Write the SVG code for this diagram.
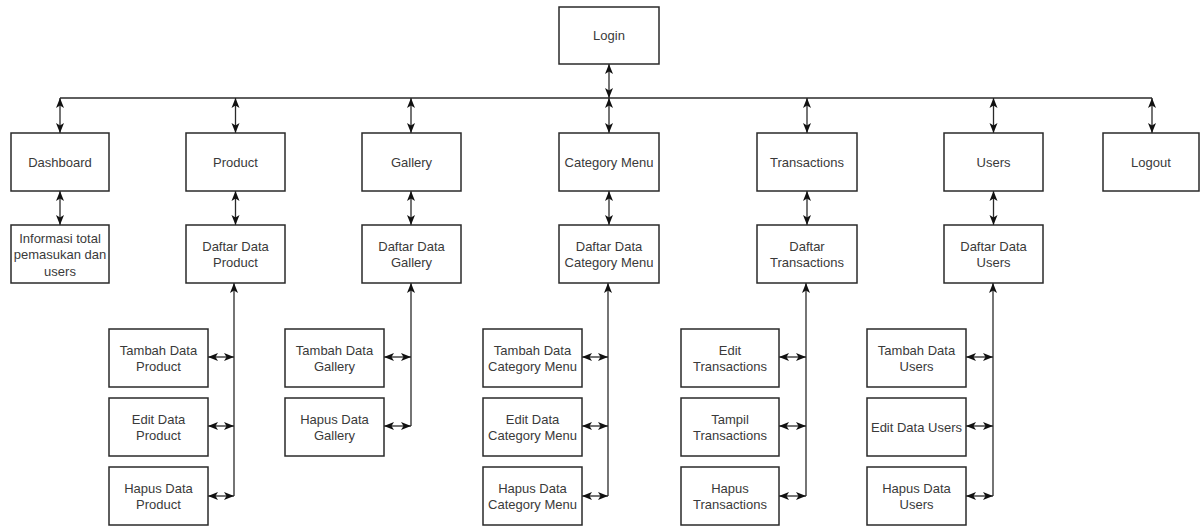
<svg xmlns="http://www.w3.org/2000/svg" width="1200" height="527" viewBox="0 0 1200 527">
<style>
.box{fill:#fff;stroke:#2a2a2a;stroke-width:1.5}
.t{font-family:"Liberation Sans",Arial,sans-serif;font-size:13px;fill:#3a3a3a;text-anchor:middle}
.c{fill:none;stroke:#2a2a2a;stroke-width:1.3}
</style>
<defs>
<marker id="ah" markerUnits="userSpaceOnUse" markerWidth="10" markerHeight="9" refX="10" refY="4.5" orient="auto-start-reverse" viewBox="0 0 10 9">
<path d="M0,0.5 L10,4.5 L0,8.5 L2.5,4.5 z" fill="#111"/>
</marker>
</defs>
<rect width="1200" height="527" fill="#fff"/>
<g id="connectors">
<line class="c" x1="60" y1="98" x2="1152" y2="98"/>
<line class="c" x1="609" y1="64" x2="609" y2="98" marker-start="url(#ah)" marker-end="url(#ah)"/>
<line class="c" x1="60" y1="98" x2="60" y2="133" marker-start="url(#ah)" marker-end="url(#ah)"/>
<line class="c" x1="235.5" y1="98" x2="235.5" y2="133" marker-start="url(#ah)" marker-end="url(#ah)"/>
<line class="c" x1="411" y1="98" x2="411" y2="133" marker-start="url(#ah)" marker-end="url(#ah)"/>
<line class="c" x1="609" y1="98" x2="609" y2="133" marker-start="url(#ah)" marker-end="url(#ah)"/>
<line class="c" x1="807" y1="98" x2="807" y2="133" marker-start="url(#ah)" marker-end="url(#ah)"/>
<line class="c" x1="993.5" y1="98" x2="993.5" y2="133" marker-start="url(#ah)" marker-end="url(#ah)"/>
<line class="c" x1="1152" y1="98" x2="1152" y2="133" marker-start="url(#ah)" marker-end="url(#ah)"/>
<line class="c" x1="60" y1="191" x2="60" y2="225" marker-start="url(#ah)" marker-end="url(#ah)"/>
<line class="c" x1="235.5" y1="191" x2="235.5" y2="225" marker-start="url(#ah)" marker-end="url(#ah)"/>
<line class="c" x1="411" y1="191" x2="411" y2="225" marker-start="url(#ah)" marker-end="url(#ah)"/>
<line class="c" x1="609" y1="191" x2="609" y2="225" marker-start="url(#ah)" marker-end="url(#ah)"/>
<line class="c" x1="807" y1="191" x2="807" y2="225" marker-start="url(#ah)" marker-end="url(#ah)"/>
<line class="c" x1="993.5" y1="191" x2="993.5" y2="225" marker-start="url(#ah)" marker-end="url(#ah)"/>
<line class="c" x1="234" y1="496" x2="234" y2="283" marker-end="url(#ah)"/>
<line class="c" x1="208" y1="357" x2="234" y2="357" marker-start="url(#ah)" marker-end="url(#ah)"/>
<line class="c" x1="208" y1="426" x2="234" y2="426" marker-start="url(#ah)" marker-end="url(#ah)"/>
<line class="c" x1="208" y1="496" x2="234" y2="496" marker-start="url(#ah)" marker-end="url(#ah)"/>
<line class="c" x1="411" y1="426" x2="411" y2="283" marker-end="url(#ah)"/>
<line class="c" x1="384" y1="357" x2="411" y2="357" marker-start="url(#ah)" marker-end="url(#ah)"/>
<line class="c" x1="384" y1="426" x2="411" y2="426" marker-start="url(#ah)" marker-end="url(#ah)"/>
<line class="c" x1="608" y1="496" x2="608" y2="283" marker-end="url(#ah)"/>
<line class="c" x1="582" y1="357" x2="608" y2="357" marker-start="url(#ah)" marker-end="url(#ah)"/>
<line class="c" x1="582" y1="426" x2="608" y2="426" marker-start="url(#ah)" marker-end="url(#ah)"/>
<line class="c" x1="582" y1="496" x2="608" y2="496" marker-start="url(#ah)" marker-end="url(#ah)"/>
<line class="c" x1="806" y1="496" x2="806" y2="283" marker-end="url(#ah)"/>
<line class="c" x1="779" y1="357" x2="806" y2="357" marker-start="url(#ah)" marker-end="url(#ah)"/>
<line class="c" x1="779" y1="426" x2="806" y2="426" marker-start="url(#ah)" marker-end="url(#ah)"/>
<line class="c" x1="779" y1="496" x2="806" y2="496" marker-start="url(#ah)" marker-end="url(#ah)"/>
<line class="c" x1="993" y1="496" x2="993" y2="283" marker-end="url(#ah)"/>
<line class="c" x1="966" y1="357" x2="993" y2="357" marker-start="url(#ah)" marker-end="url(#ah)"/>
<line class="c" x1="966" y1="426" x2="993" y2="426" marker-start="url(#ah)" marker-end="url(#ah)"/>
<line class="c" x1="966" y1="496" x2="993" y2="496" marker-start="url(#ah)" marker-end="url(#ah)"/>
</g>
<g id="login"><rect class="box" x="559" y="7" width="100" height="57"/><text class="t" x="609" y="40">Login</text></g>
<g id="dashboard"><rect class="box" x="11" y="133" width="98" height="58"/><text class="t" x="60" y="166.5">Dashboard</text></g>
<g id="product"><rect class="box" x="186" y="133" width="99" height="58"/><text class="t" x="235.5" y="166.5">Product</text></g>
<g id="gallery"><rect class="box" x="362" y="133" width="99" height="58"/><text class="t" x="411.5" y="166.5">Gallery</text></g>
<g id="category"><rect class="box" x="559" y="133" width="100" height="58"/><text class="t" x="609" y="166.5">Category Menu</text></g>
<g id="transactions"><rect class="box" x="757" y="133" width="100" height="58"/><text class="t" x="807" y="166.5">Transactions</text></g>
<g id="users"><rect class="box" x="944" y="133" width="99" height="58"/><text class="t" x="993.5" y="166.5">Users</text></g>
<g id="logout"><rect class="box" x="1103" y="133" width="96" height="58"/><text class="t" x="1151" y="166.5">Logout</text></g>
<g id="info"><rect class="box" x="11" y="225" width="98" height="58"/><text class="t" x="60" y="242.5">Informasi total<tspan x="60" dy="16.5">pemasukan dan</tspan><tspan x="60" dy="16.5">users</tspan></text></g>
<g id="daftar-product"><rect class="box" x="186" y="225" width="99" height="58"/><text class="t" x="235.5" y="250.5">Daftar Data<tspan x="235.5" dy="16.5">Product</tspan></text></g>
<g id="daftar-gallery"><rect class="box" x="362" y="225" width="99" height="58"/><text class="t" x="411.5" y="250.5">Daftar Data<tspan x="411.5" dy="16.5">Gallery</tspan></text></g>
<g id="daftar-category"><rect class="box" x="559" y="225" width="100" height="58"/><text class="t" x="609" y="250.5">Daftar Data<tspan x="609" dy="16.5">Category Menu</tspan></text></g>
<g id="daftar-transactions"><rect class="box" x="757" y="225" width="100" height="58"/><text class="t" x="807" y="250.5">Daftar<tspan x="807" dy="16.5">Transactions</tspan></text></g>
<g id="daftar-users"><rect class="box" x="944" y="225" width="99" height="58"/><text class="t" x="993.5" y="250.5">Daftar Data<tspan x="993.5" dy="16.5">Users</tspan></text></g>
<g id="tambah-product"><rect class="box" x="109" y="329" width="99" height="58"/><text class="t" x="158.5" y="354.5">Tambah Data<tspan x="158.5" dy="16.5">Product</tspan></text></g>
<g id="edit-product"><rect class="box" x="109" y="398" width="99" height="58"/><text class="t" x="158.5" y="423.5">Edit Data<tspan x="158.5" dy="16.5">Product</tspan></text></g>
<g id="hapus-product"><rect class="box" x="109" y="467" width="99" height="58"/><text class="t" x="158.5" y="492.5">Hapus Data<tspan x="158.5" dy="16.5">Product</tspan></text></g>
<g id="tambah-gallery"><rect class="box" x="285" y="329" width="99" height="58"/><text class="t" x="334.5" y="354.5">Tambah Data<tspan x="334.5" dy="16.5">Gallery</tspan></text></g>
<g id="hapus-gallery"><rect class="box" x="285" y="398" width="99" height="58"/><text class="t" x="334.5" y="423.5">Hapus Data<tspan x="334.5" dy="16.5">Gallery</tspan></text></g>
<g id="tambah-category"><rect class="box" x="483" y="329" width="99" height="58"/><text class="t" x="532.5" y="354.5">Tambah Data<tspan x="532.5" dy="16.5">Category Menu</tspan></text></g>
<g id="edit-category"><rect class="box" x="483" y="398" width="99" height="58"/><text class="t" x="532.5" y="423.5">Edit Data<tspan x="532.5" dy="16.5">Category Menu</tspan></text></g>
<g id="hapus-category"><rect class="box" x="483" y="467" width="99" height="58"/><text class="t" x="532.5" y="492.5">Hapus Data<tspan x="532.5" dy="16.5">Category Menu</tspan></text></g>
<g id="edit-transactions"><rect class="box" x="681" y="329" width="98" height="58"/><text class="t" x="730" y="354.5">Edit<tspan x="730" dy="16.5">Transactions</tspan></text></g>
<g id="tampil-transactions"><rect class="box" x="681" y="398" width="98" height="58"/><text class="t" x="730" y="423.5">Tampil<tspan x="730" dy="16.5">Transactions</tspan></text></g>
<g id="hapus-transactions"><rect class="box" x="681" y="467" width="98" height="58"/><text class="t" x="730" y="492.5">Hapus<tspan x="730" dy="16.5">Transactions</tspan></text></g>
<g id="tambah-users"><rect class="box" x="867" y="329" width="99" height="58"/><text class="t" x="916.5" y="354.5">Tambah Data<tspan x="916.5" dy="16.5">Users</tspan></text></g>
<g id="edit-users"><rect class="box" x="867" y="398" width="99" height="58"/><text class="t" x="916.5" y="431.5">Edit Data Users</text></g>
<g id="hapus-users"><rect class="box" x="867" y="467" width="99" height="58"/><text class="t" x="916.5" y="492.5">Hapus Data<tspan x="916.5" dy="16.5">Users</tspan></text></g>
</svg>
